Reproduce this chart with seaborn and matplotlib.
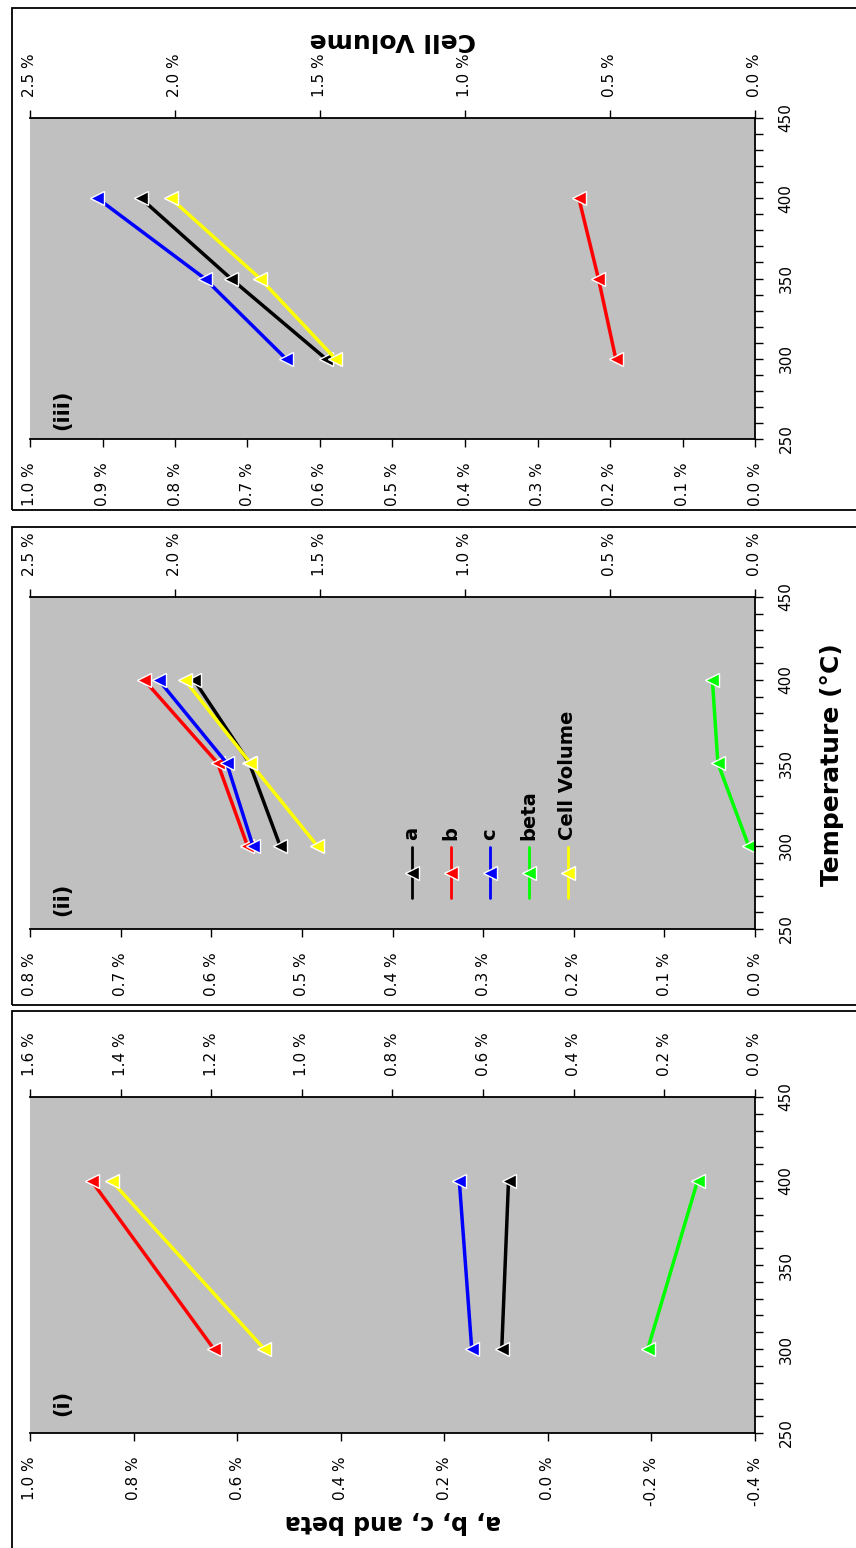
import matplotlib
matplotlib.use('Agg')
import matplotlib.pyplot as plt
from matplotlib.patches import Rectangle
from matplotlib.ticker import MultipleLocator, FuncFormatter
import pandas as pd
import seaborn as sns

# values (% change vs temperature)
params = ['a', 'b', 'c', 'beta']
colors = {'a': 'black', 'b': 'red', 'c': 'blue', 'beta': '#00ff00', 'Cell Volume': 'yellow'}

temps_i = [300, 400]
a_i = [0.089, 0.076]
b_i = [0.645, 0.881]
c_i = [0.147, 0.171]
beta_i = [-0.193, -0.289]
vol_i = [1.083, 1.420]

temps_ii = [300, 350, 400]
a_ii = [0.524, 0.558, 0.619]
b_ii = [0.560, 0.593, 0.674]
c_ii = [0.554, 0.583, 0.658]
beta_ii = [0.007, 0.041, 0.047]
vol_ii = [1.509, 1.740, 1.966]

temps_iii = [300, 350, 400]
a_iii = [0.592, 0.723, 0.847]
b_iii = [0.192, 0.216, 0.243]
c_iii = [0.647, 0.759, 0.907]
vol_iii = [1.447, 1.707, 2.015]

W, H = 856, 1548

sns.set_style('white')
plt.rcParams['font.family'] = ['DejaVu Sans']
plt.rcParams['text.color'] = 'black'
plt.rcParams['xtick.color'] = 'black'
plt.rcParams['ytick.color'] = 'black'
plt.rcParams['axes.labelcolor'] = 'black'

fig = plt.figure(figsize=(W / 100, H / 100), dpi=100)


def pct(v, pos):
    return '{:.1f} %'.format(round(v, 3) + 0.0)


def panel(top, bottom, temps, series, vol, left_lim, left_step, right_lim, right_step, tag):
    rect = [30 / W, 1 - bottom / H, 725 / W, (bottom - top) / H]
    ax = fig.add_axes(rect)
    ax.set_facecolor('#c0c0c0')

    rows = []
    for name, vals in series.items():
        for t, v in zip(temps, vals):
            rows.append({'temp': t, 'value': v, 'param': name})
    df = pd.DataFrame(rows)
    sns.lineplot(data=df, x='value', y='temp', hue='param', hue_order=list(series.keys()),
                 palette=colors, orient='y', errorbar=None, legend=False, ax=ax,
                 marker='<', markersize=10, markeredgecolor='white', markeredgewidth=1,
                 linewidth=2.5)
    ax.set_xlim(*left_lim)
    ax.set_ylim(250, 450)
    ax.set_xlabel('')
    ax.set_ylabel('')
    ax.xaxis.set_major_locator(MultipleLocator(left_step))
    ax.xaxis.set_major_formatter(FuncFormatter(pct))
    ax.yaxis.set_major_locator(MultipleLocator(50))
    ax.yaxis.set_minor_locator(MultipleLocator(10))
    ax.yaxis.tick_right()
    ax.tick_params(axis='x', direction='out', length=6, width=1, labelsize=11, pad=11,
                   labelrotation=90, bottom=True, colors='black')
    ax.tick_params(axis='y', which='both', direction='out', length=6, width=1,
                   labelsize=11, pad=11, labelrotation=90, right=True, left=False,
                   colors='black')
    for s in ['left', 'top']:
        ax.spines[s].set_visible(False)
    for s in ['bottom', 'right']:
        ax.spines[s].set_color('black')
        ax.spines[s].set_linewidth(1.3)
    for lab in ax.get_yticklabels():
        lab.set_va('center')

    ax2 = ax.twiny()
    sns.lineplot(x=vol, y=temps, orient='y', color=colors['Cell Volume'], errorbar=None,
                 ax=ax2, marker='<', markersize=10, markeredgecolor='white',
                 markeredgewidth=1, linewidth=2.5)
    ax2.set_xlim(*right_lim)
    ax2.set_ylim(250, 450)
    ax2.set_xlabel('')
    ax2.set_ylabel('')
    ax2.xaxis.set_major_locator(MultipleLocator(right_step))
    ax2.xaxis.set_major_formatter(FuncFormatter(pct))
    ax2.tick_params(axis='x', direction='out', length=6, width=1, labelsize=11, pad=9,
                    labelrotation=90, top=True, colors='black')
    for s in ['left', 'bottom', 'right']:
        ax2.spines[s].set_visible(False)
    ax2.spines['top'].set_color('black')
    ax2.spines['top'].set_linewidth(1.3)

    ax.text(0.044, 0.09, tag, transform=ax.transAxes, rotation=90, fontsize=15,
            fontweight='bold', ha='center', va='center', color='black')
    return ax


# panel frames
for y0, y1 in [(8, 510), (527, 1005), (1011, 1560)]:
    fig.add_artist(Rectangle((12 / W, 1 - y1 / H), (900 - 12) / W, (y1 - y0) / H,
                             transform=fig.transFigure, fill=False, ec='black', lw=1.3))

panel(118, 439, temps_iii, {'a': a_iii, 'b': b_iii, 'c': c_iii}, vol_iii,
      (1.0, 0.0), 0.1, (2.5, 0.0), 0.5, '(iii)')
ax_ii = panel(597, 929, temps_ii, {'a': a_ii, 'b': b_ii, 'c': c_ii, 'beta': beta_ii}, vol_ii,
              (0.8, 0.0), 0.1, (2.5, 0.0), 0.5, '(ii)')
panel(1097, 1433, temps_i, {'a': a_i, 'b': b_i, 'c': c_i, 'beta': beta_i}, vol_i,
      (1.0, -0.4), 0.2, (1.6, 0.0), 0.2, '(i)')

# legend in panel (ii), drawn rotated like the rest of the chart
for k, name in enumerate(params + ['Cell Volume']):
    xk = 0.527 + k * 0.0537
    ax_ii.plot([xk, xk], [0.093, 0.247], transform=ax_ii.transAxes, color=colors[name],
               lw=2, clip_on=False)
    ax_ii.plot([xk], [0.169], transform=ax_ii.transAxes, color=colors[name], marker='<',
               markersize=10, markeredgecolor='white', markeredgewidth=1, clip_on=False)
    ax_ii.text(xk, 0.268, name, transform=ax_ii.transAxes, rotation=90, fontsize=14,
               fontweight='bold', ha='center', va='bottom', color='black')

fig.text(392.5 / W, 1 - 40 / H, 'Cell Volume', rotation=180, fontsize=18,
         fontweight='bold', ha='center', va='center', color='black')
fig.text(392.5 / W, 1 - 1522 / H, 'a, b, c, and beta', rotation=180, fontsize=17,
         fontweight='bold', ha='center', va='center', color='black')
fig.text(832 / W, 1 - 765 / H, 'Temperature (°C)', rotation=90, fontsize=18,
         fontweight='bold', ha='center', va='center', color='black')

fig.savefig('out.png', dpi=100)
